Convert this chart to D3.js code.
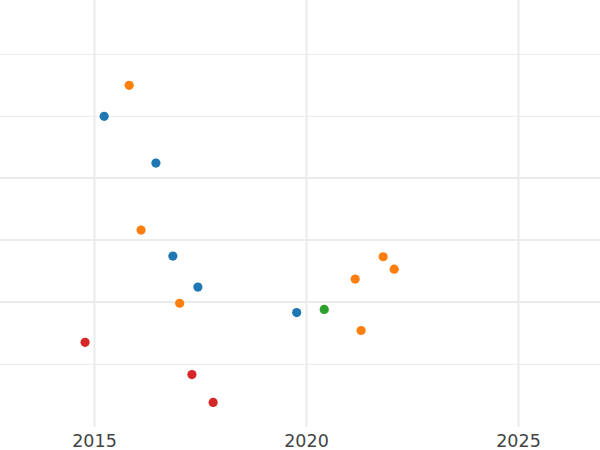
<!DOCTYPE html>
<html>
<head>
<meta charset="utf-8">
<script src="https://cdn.jsdelivr.net/npm/d3@7"></script>
<style>
  html, body { margin: 0; padding: 0; background: #fff; }
  svg { display: block; }
</style>
</head>
<body>
<svg id="chart" width="600" height="450"></svg>
<script>
// ---- data ----
const years = [2015.83, 2015.24, 2016.46, 2016.11, 2016.86, 2017.45, 2017.02, 2019.78,
               2014.79, 2017.31, 2017.81, 2021.82, 2022.08, 2021.16, 2020.43, 2021.30];
const values = [54.95, 49.95, 42.4, 31.6, 27.4, 22.4, 19.8, 18.3,
                13.5, 8.3, 3.8, 27.3, 25.3, 23.7, 18.8, 15.4];
const groups = ["B", "A", "A", "B", "A", "A", "B", "A",
                "D", "D", "D", "B", "B", "B", "C", "B"];
const groupNames = ["A", "B", "C", "D"];
const groupColors = ["#1f77b4", "#ff7f0e", "#2ca02c", "#d62728"];
const xTicks = [2015, 2020, 2025];
const xTickLabels = ["2015", "2020", "2025"];
const yMajorTicks = [20, 30, 40];
const yMinorTicks = [10, 50, 60];

// ---- layout ----
const W = 600, H = 450;
const plot = { left: 0, right: 600, top: 0, bottom: 427 };

const x = d3.scaleLinear().domain([2012.783, 2026.934]).range([plot.left, plot.right]);
const y = d3.scaleLinear().domain([0, 68.71]).range([426, 0]);
const color = d3.scaleOrdinal().domain(groupNames).range(groupColors);

const svg = d3.select("#chart");
const grid = "#ebebeb";

// horizontal gridlines
svg.append("g").selectAll("line.minor").data(yMinorTicks).join("line")
  .attr("x1", plot.left).attr("x2", plot.right)
  .attr("y1", d => Math.round(y(d)) + 0.5).attr("y2", d => Math.round(y(d)) + 0.5)
  .attr("stroke", grid).attr("stroke-width", 1);
svg.append("g").selectAll("line.major").data(yMajorTicks).join("line")
  .attr("x1", plot.left).attr("x2", plot.right)
  .attr("y1", d => Math.round(y(d))).attr("y2", d => Math.round(y(d)))
  .attr("stroke", grid).attr("stroke-width", 2);

// x axis via d3 axis, styled as gridlines
const xAxis = d3.axisBottom(x)
  .tickValues(xTicks)
  .tickFormat((d, i) => xTickLabels[i])
  .tickSize(plot.bottom - plot.top)
  .tickPadding(6);
const gx = svg.append("g").attr("transform", `translate(0,${plot.top})`).call(xAxis);
gx.select(".domain").remove();
gx.selectAll(".tick line").attr("stroke", grid).attr("stroke-width", 2);
gx.selectAll(".tick text")
  .attr("fill", "#444")
  .attr("font-family", "DejaVu Sans, sans-serif")
  .attr("font-size", 17.5)
  .attr("dy", null)
  .attr("y", 447);

// points
const pts = years.map((yr, i) => ({ yr, v: values[i], g: groups[i] }));
svg.append("g").selectAll("circle").data(pts).join("circle")
  .attr("cx", d => x(d.yr))
  .attr("cy", d => y(d.v))
  .attr("r", 4.6)
  .attr("fill", d => color(d.g));
</script>
</body>
</html>
